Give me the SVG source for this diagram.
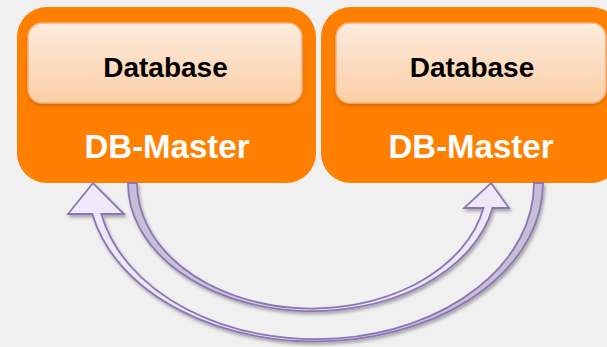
<svg xmlns="http://www.w3.org/2000/svg" width="607" height="347" viewBox="0 0 607 347">
<style>
.outer{fill:#ff7f00}
.inner{fill:url(#gIn);stroke:#f6b07a;stroke-width:1.5;filter:url(#shIn)}
.db{font-family:"Liberation Sans",Arial,sans-serif;font-weight:bold;font-size:28px;fill:#000;text-anchor:middle}
.dm{font-family:"Liberation Sans",Arial,sans-serif;font-weight:bold;font-size:33px;fill:#fff;text-anchor:middle}
.arr{stroke:#8e74b6;stroke-width:1.8;stroke-linejoin:miter;filter:url(#shA)}
</style>
<defs>
<linearGradient id="gIn" x1="0" y1="0" x2="0" y2="1">
<stop offset="0" stop-color="#fdebdd"/>
<stop offset="1" stop-color="#fbcfa6"/>
</linearGradient>
<linearGradient id="gA1" gradientUnits="userSpaceOnUse" x1="68" y1="0" x2="545" y2="0">
<stop offset="0" stop-color="#efe9f9"/>
<stop offset="0.5" stop-color="#e6dff1"/>
<stop offset="0.75" stop-color="#cbc3d9"/>
<stop offset="1" stop-color="#c6bed4"/>
</linearGradient>
<linearGradient id="gA2" gradientUnits="userSpaceOnUse" x1="128" y1="0" x2="510" y2="0">
<stop offset="0" stop-color="#c6bed4"/>
<stop offset="0.25" stop-color="#cbc3d9"/>
<stop offset="0.5" stop-color="#e6dff1"/>
<stop offset="1" stop-color="#efe9f9"/>
</linearGradient>
<filter id="shA" x="-10%" y="-10%" width="120%" height="130%">
<feDropShadow dx="1.5" dy="2.5" stdDeviation="1.8" flood-color="#000" flood-opacity="0.3"/>
</filter>
<filter id="shIn" x="-10%" y="-10%" width="120%" height="140%">
<feDropShadow dx="0" dy="2" stdDeviation="1.5" flood-color="#a04800" flood-opacity="0.45"/>
</filter>
</defs>
<rect width="607" height="347" fill="#f0f0f0"/>
<g id="master1">
<rect class="outer" x="17" y="7" width="299" height="176" rx="30"/>
<rect class="inner" x="28" y="23" width="274" height="80" rx="14"/>
<text class="db" x="165.5" y="77">Database</text>
<text class="dm" x="167" y="158">DB-Master</text>
</g>
<g id="master2">
<rect class="outer" x="321" y="7" width="300" height="176" rx="30"/>
<rect class="inner" x="336" y="23" width="270" height="80" rx="14"/>
<text class="db" x="472" y="77">Database</text>
<text class="dm" x="471" y="158">DB-Master</text>
</g>
<g id="connectors">
<path class="arr" fill="url(#gA1)" d="M 543 183 A 227.5 158.5 0 0 1 92.4 214 L 68 214 L 93 183 L 124 214 L 101.3 214 A 218.5 156 0 0 0 534 183 Z"/>
<path class="arr" fill="url(#gA2)" d="M 128 183 A 184 128 0 0 0 492.5 208 L 509 208 L 491 183 L 464 208 L 483.5 208 A 175 125.5 0 0 1 137 183 Z"/>
</g>
</svg>
